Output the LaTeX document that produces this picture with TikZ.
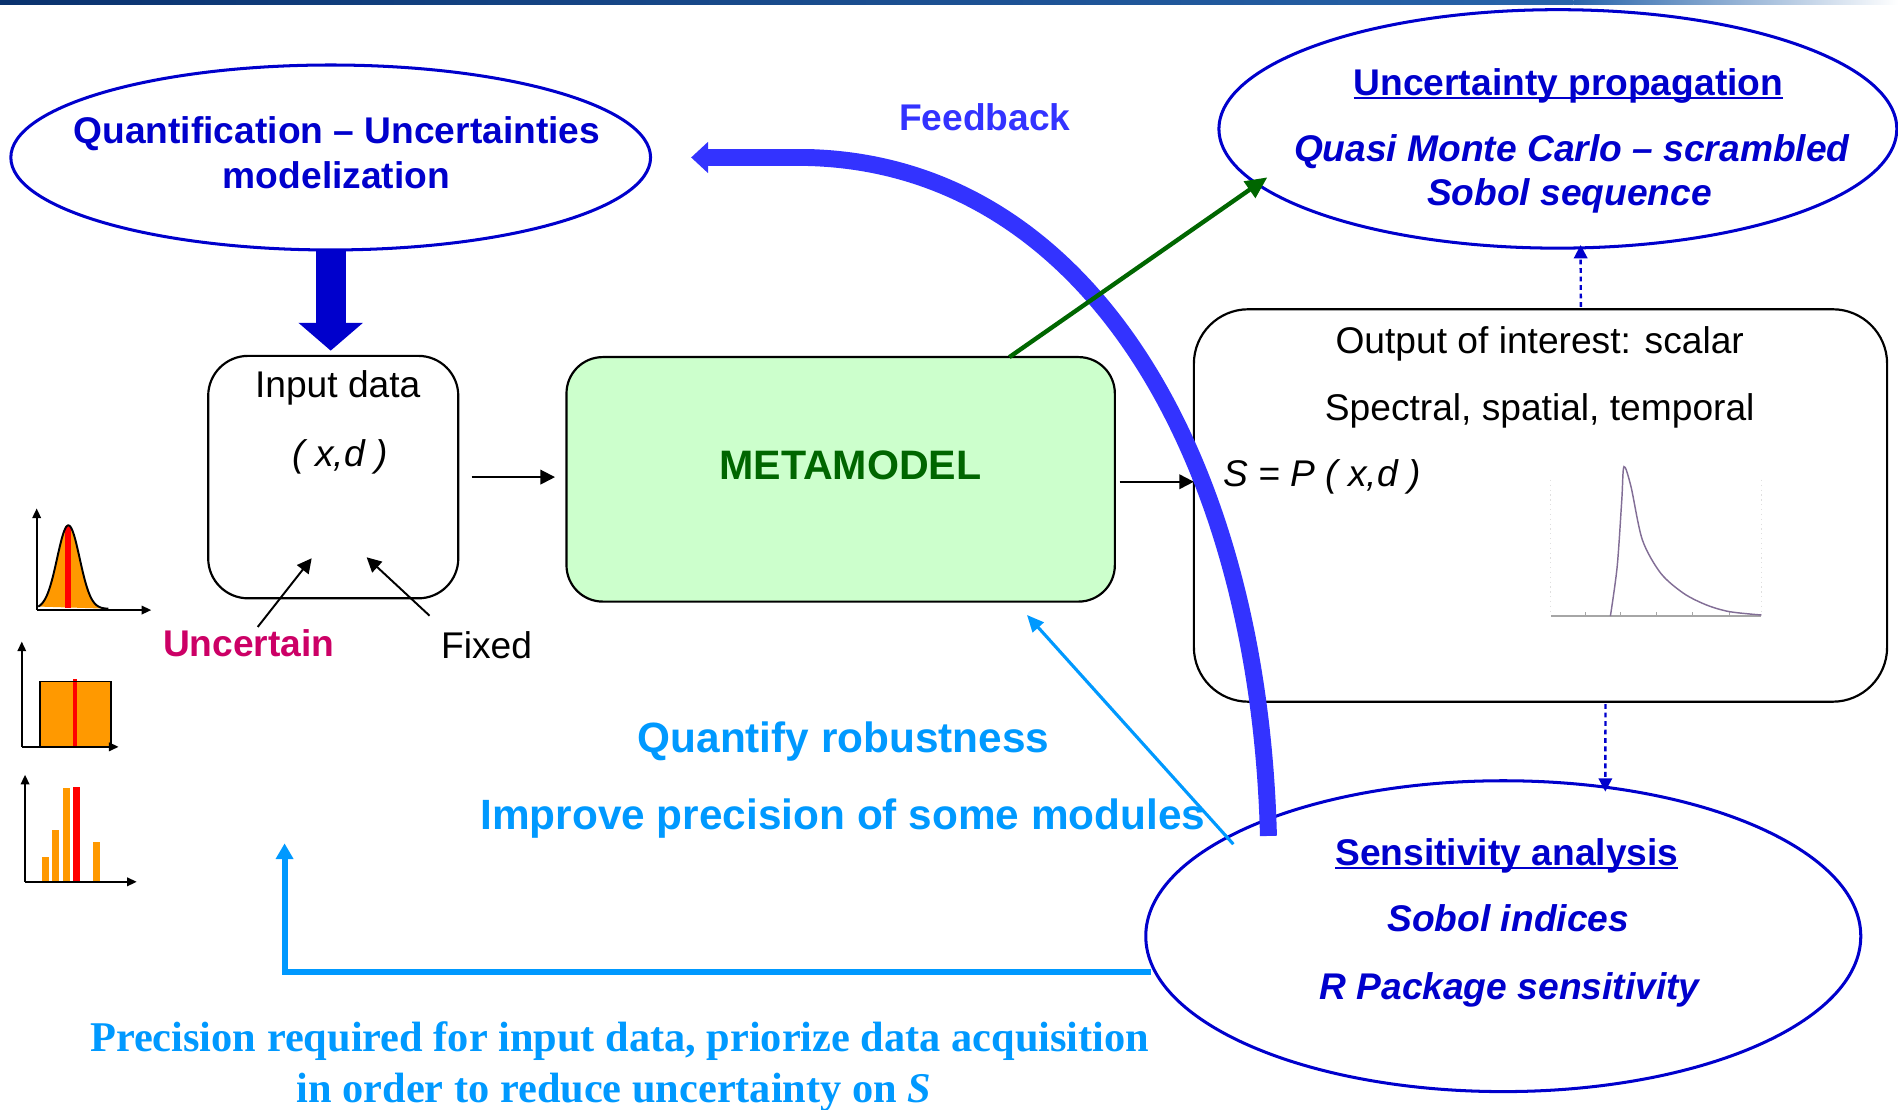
\documentclass[tikz,border=0pt]{standalone}
\usepackage{fontspec}
\setmainfont{Liberation Sans}
\newfontfamily\serifb{Liberation Serif}
\usetikzlibrary{shapes.geometric,arrows.meta,calc}
\definecolor{dblue}{RGB}{0,0,204}
\definecolor{fblue}{RGB}{51,51,255}
\definecolor{dgreen}{RGB}{0,102,0}
\definecolor{mfill}{RGB}{204,255,204}
\definecolor{lblue}{RGB}{0,153,255}
\definecolor{magen}{RGB}{204,0,102}
\definecolor{orng}{RGB}{255,153,0}
\definecolor{plotc}{RGB}{130,110,150}
\definecolor{barA}{RGB}{10,50,110}
\definecolor{barB}{RGB}{40,100,170}
\newsavebox\ulbox
\newcommand\myul[1]{\sbox\ulbox{#1}\rlap{\rule[-3.7pt]{\wd\ulbox}{2pt}}\usebox\ulbox}
\begin{document}
\begin{tikzpicture}[x=1pt,y=-1pt,
  lbl/.style={inner sep=0pt, outer sep=0pt, anchor=base},
  t31/.style={lbl, font=\fontsize{30.7pt}{37pt}\selectfont},
  t31b/.style={lbl, font=\fontsize{30.7pt}{37pt}\selectfont\bfseries},
  t31bi/.style={lbl, font=\fontsize{30.7pt}{37pt}\selectfont\bfseries\itshape},
  t35b/.style={lbl, font=\fontsize{35pt}{42pt}\selectfont\bfseries, text=lblue},
  t35s/.style={lbl, font=\fontsize{35pt}{42pt}\serifb\selectfont\bfseries, text=lblue},
  ell/.style={ellipse, draw=dblue, line width=2.5pt, inner sep=0pt, outer sep=0pt},
  rbox/.style={draw=black, line width=1.8pt, inner sep=0pt, outer sep=0pt},
  thinarr/.style={line width=1.6pt, -{Triangle[width=12pt,length=12pt]}},
  dotarr/.style={dblue, line width=2pt, dash pattern=on 4pt off 3pt, -{Triangle[width=11pt,length=11pt]}},
  axarr/.style={black, line width=1.6pt, -{Triangle[width=7pt,length=8pt]}}
]
\useasboundingbox (0,0) rectangle (1568,917);
% top band
\shade[left color=barA, right color=barB] (0,0) rectangle (1300,3.5);
\shade[left color=barB, right color=white] (1300,0) rectangle (1568,3.5);

% ellipses
\node[ell, minimum width=528.5pt, minimum height=152.8pt] (qum) at (273.2,130.1) {};
\node[ell, minimum width=560pt, minimum height=197pt] (upe) at (1287,106.5) {};
\node[ell, minimum width=590.7pt, minimum height=256.8pt] (sens) at (1241.9,773.4) {};

% boxes
\node[rbox, rounded corners=33pt, minimum width=206.6pt, minimum height=200.3pt] (inp) at (275.3,394.15) {};
\node[rbox, fill=mfill, rounded corners=30pt, minimum width=453pt, minimum height=202pt] (meta) at (694.5,396) {};
\node[rbox, rounded corners=45pt, minimum width=572.7pt, minimum height=324.2pt] (out) at (1272.65,417.6) {};

% texts
\node[t31b, text=dblue] (q1) at (278.3,118.4) {Quantification – Uncertainties};
\node[t31b, text=dblue] (q2) at (278,155.6) {modelization};
\node[t31b, text=fblue] (fbt) at (813.6,107.4) {Feedback};
\node[t31b, text=dblue] (u1) at (1295.7,78.5) {\myul{Uncertainty propagation}};
\node[t31bi, text=dblue] (u2) at (1298.5,133.6) {Quasi Monte Carlo – scrambled};
\node[t31bi, text=dblue] (u3) at (1296.6,169.4) {Sobol sequence};
\node[t31] (i1) at (279,328.2) {Input data};
\node[t31, font=\fontsize{30.7pt}{37pt}\selectfont\itshape] (i2) at (281,385.5) {( x,d )};
\node[t31b, text=magen] (unc) at (205.5,542.5) {Uncertain};
\node[t31] (fix) at (402,543.8) {Fixed};
\node[lbl, font=\fontsize{34pt}{40pt}\selectfont\bfseries, text=dgreen] (mt) at (702.5,396) {METAMODEL};
\node[t31] (o1) at (1272,291.9) {Output of interest: scalar};
\node[t31] (o2) at (1272,347) {Spectral, spatial, temporal};
\node[t31, anchor=base west, font=\fontsize{30.7pt}{37pt}\selectfont\itshape] (o3) at (1010.7,402) {S = P ( x,d )};
\node[t35b] (r1) at (696.9,621.8) {Quantify robustness};
\node[t35b] (r2) at (696.4,685.1) {Improve precision of some modules};
\node[t31b, text=dblue] (s1) at (1244.9,714.6) {\myul{Sensitivity analysis}};
\node[t31bi, text=dblue] (s2) at (1246,769.7) {Sobol indices};
\node[t31bi, text=dblue] (s3) at (1247,825.5) {R Package sensitivity};
\node[t35s] (b1) at (512,868.8) {Precision required for input data, priorize data acquisition};
\node[t35s] (b2) at (507.2,910.9) {in order to reduce uncertainty on \textit{S}};

% plot inside output box
\draw[gray!25, line width=0.8pt, dash pattern=on 1pt off 3pt] (1281.2,396.5) -- (1281.2,506) (1455.2,396.5) -- (1455.2,506);
\draw[gray!70, line width=1.2pt] (1281.2,508.9) -- (1455.2,508.9);
\foreach \tx in {1309.5,1339,1368.2,1398.5,1428.7}
  \draw[gray!70, line width=0.8pt] (\tx,508.9) -- (\tx,505.5);
\draw[plotc, line width=1.2pt] plot[smooth, tension=0.5] coordinates {(1330.4,508.9) (1336,468) (1339.8,413) (1341.6,385.5) (1347.4,402) (1356.8,446) (1372,473.6) (1390.9,490.2) (1409.8,499.8) (1428.7,505.3) (1455.2,508.1)};

% fat arrow from quantification to input
\draw[dblue, line width=25pt, -{Triangle[width=52pt,length=23pt]}, shorten >=4.3pt] (qum.south) -- (qum.south |- inp.north);

% input -> metamodel -> output
\draw[thinarr] ($(inp.east)+(11,0)$) -- ($(inp.east -| meta.west)+(-9.5,0)$);
\coordinate (mo) at ($(meta.east)+(4,2)$);
\draw[thinarr] (mo) -- (mo -| out.west);

% uncertain / fixed arrows
\coordinate (uncT) at (257.5,461.2);
\coordinate (fixT) at (302.9,460.4);
\draw[thinarr] ($(unc.north)+(7.4,-2.3)$) -- (uncT);
\draw[thinarr] ($(fix.north west)+(-9.6,-12.9)$) -- (fixT);

% dotted arrows
\draw[dotarr] ($(out.north)+(33.3,-2)$) -- ($(upe.south)+(18.8,-2.6)$);
\draw[dotarr] ($(out.south)+(53.7,2)$) -- ($(sens.north)+(84.3,9)$);

% light blue arrows
\coordinate (lbC) at (235.1,802.7);
\coordinate (lbT) at (235.1,696.7);
\draw[lblue, line width=5pt, -{Triangle[width=14pt,length=13pt]}] ($(sens.center)+(-291,29.3)$) -- (lbC) -- (lbT);
\draw[lblue, line width=2.6pt, -{Triangle[width=12pt,length=14pt]}] ($(sens.center)+(-223,-76)$) -- ($(meta.south west)+(380.4,11)$);

% feedback arrow
\coordinate (fbS) at ($(sens.center)+(-194,-82.8)$);
\draw[fblue, line width=14pt, -{Triangle[width=25pt,length=14pt]}, shorten >=33.5pt] (fbS) .. controls (1040,380) and (900,135) .. (666,130.1) -- (qum.east);

% green arrow
\draw[dgreen, line width=3.6pt, -{Triangle[width=16pt,length=18pt]}] ($(meta.north west)+(365.9,0)$) -- ($(upe.center)+(-240,40)$);

% distribution icons
% normal
\fill[orng] plot[domain=31.6:89.5, samples=60] ({\x},{503-69*exp(-((\x-56.5)/9.3)*((\x-56.5)/9.3)/2)}) -- cycle;
\fill[red] (54,434.5) rectangle (59,502);
\draw[black, line width=1.6pt] plot[domain=31.6:89.5, samples=60] ({\x},{503-69*exp(-((\x-56.5)/9.3)*((\x-56.5)/9.3)/2)});
\draw[axarr] (30.3,504) -- (30.3,420);
\draw[axarr] (30.3,504) -- (125,504);
% uniform
\fill[orng] (33,563) rectangle (92,617);
\fill[red] (60,561) rectangle (64,617);
\draw[black, line width=1.6pt] (33,617) -- (33,563) -- (92,563) -- (92,617);
\draw[axarr] (18,617) -- (18,530);
\draw[axarr] (18,617) -- (98,617);
% discrete
\fill[orng] (34.4,707.7) rectangle (40.5,728.5);
\fill[orng] (42.7,685.7) rectangle (48.7,728.5);
\fill[orng] (51.8,651) rectangle (57.8,728.5);
\fill[red] (60,650) rectangle (66,728.5);
\fill[orng] (76.6,696) rectangle (82.6,728.5);
\draw[axarr] (20.7,728.5) -- (20.7,640);
\draw[axarr] (20.7,728.5) -- (113,728.5);
\end{tikzpicture}
\end{document}
